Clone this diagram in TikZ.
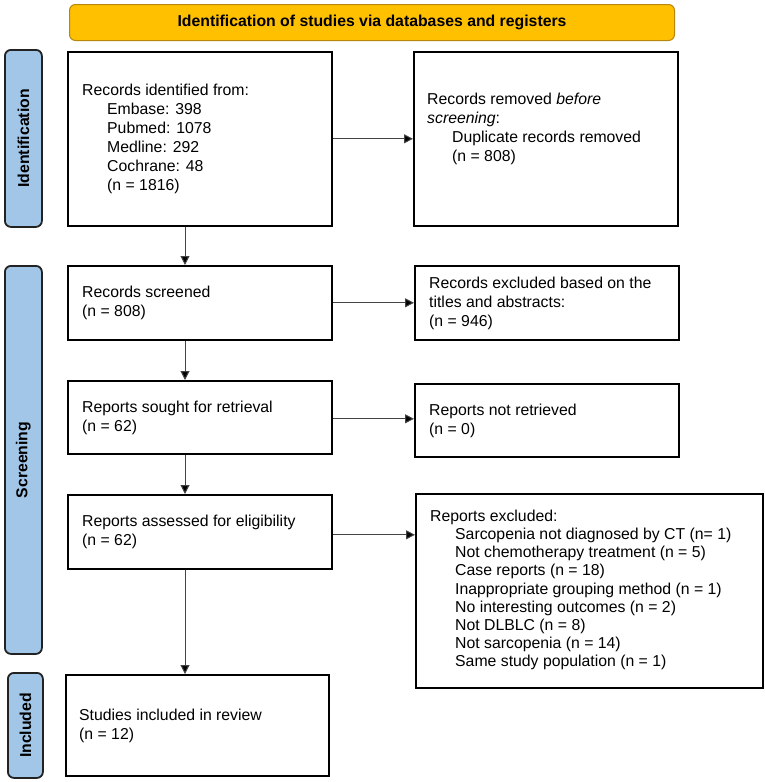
\documentclass[tikz,border=0pt]{standalone}
\usepackage{fontspec}
\setmainfont{Liberation Sans}
\usetikzlibrary{arrows.meta,calc}
\definecolor{gold}{HTML}{FFC000}
\definecolor{goldline}{HTML}{B8860B}
\definecolor{sideblue}{HTML}{A2C6E8}
\definecolor{sideline}{HTML}{222222}
\definecolor{arrline}{HTML}{444444}
\tikzset{
  box/.style={draw=black, line width=1.6pt, inner sep=0pt, fill=white, anchor=north west},
  txt/.style={anchor=west, align=left, inner sep=0pt, font=\fontsize{15.8}{19}\selectfont},
  txtb/.style={anchor=west, align=left, inner sep=0pt, font=\fontsize{15.8}{18.1}\selectfont},
  sidebox/.style={draw=sideline, fill=sideblue, rounded corners=6pt, line width=1.8pt, inner sep=0pt, anchor=north west},
  sidetxt/.style={rotate=90, inner sep=0pt, font=\bfseries\fontsize{15.8}{18}\selectfont},
  banner/.style={draw=goldline, fill=gold, rounded corners=6pt, line width=1pt, inner sep=0pt, anchor=north west, font=\bfseries\fontsize{15.8}{18}\selectfont},
  arr/.style={draw=arrline, line width=1pt, -{Triangle[length=9pt,width=9pt,fill=black]}}
}
\begin{document}
\begin{tikzpicture}[x=1pt,y=-1pt]
\useasboundingbox (0,0) rectangle (765,782);
% banner
\node[banner, minimum width=605pt, minimum height=36pt] (title) at (69,4) {Identification of studies via databases and registers};
% side labels
\node[sidebox, minimum width=37pt, minimum height=177pt] (s1) at (4,49) {};
\node[sidetxt] (s1t) at (s1.center) {Identification};
\node[sidebox, minimum width=37pt, minimum height=388pt] (s2) at (4,265) {};
\node[sidetxt] (s2t) at (s2.center) {Screening};
\node[sidebox, minimum width=35pt, minimum height=105pt] (s3) at (7,672) {};
\node[sidetxt] (s3t) at (s3.center) {Included};
% boxes
\node[box, minimum width=264pt, minimum height=174pt] (b1) at (67,51) {};
\node[box, minimum width=264pt, minimum height=174pt] (rem) at (413,51) {};
\node[box, minimum width=264pt, minimum height=74pt] (b2) at (67,265) {};
\node[box, minimum width=264pt, minimum height=74pt] (exc1) at (414,265) {};
\node[box, minimum width=264pt, minimum height=73pt] (b3) at (67,380) {};
\node[box, minimum width=264pt, minimum height=73pt] (nr) at (414,383) {};
\node[box, minimum width=264pt, minimum height=74pt] (b4) at (67,494) {};
\node[box, minimum width=347pt, minimum height=194pt] (exc2) at (415,493) {};
\node[box, minimum width=263pt, minimum height=101pt] (b5) at (65,674) {};
% texts
\node[txt] (t1) at (82,139) {Records identified from:\\
\hspace*{25pt}Embase: 398\\
\hspace*{25pt}Pubmed: 1078\\
\hspace*{25pt}Medline: 292\\
\hspace*{25pt}Cochrane: 48\\
\hspace*{25pt}(n = 1816)};
\node[txt] (trem) at (427,129) {Records removed \textit{before}\\
\textit{screening}:\\
\hspace*{25pt}Duplicate records removed\\
\hspace*{25pt}(n = 808)};
\node[txt] (t2) at (82,303) {Records screened\\(n = 808)};
\node[txt] (texc1) at (429,303) {Records excluded based on the\\titles and abstracts:\\(n = 946)};
\node[txt] (t3) at (82,418) {Reports sought for retrieval\\(n = 62)};
\node[txt] (tnr) at (429,421) {Reports not retrieved\\(n = 0)};
\node[txt] (t4) at (82,532) {Reports assessed for eligibility\\(n = 62)};
\node[txtb] (texc2) at (430,590) {Reports excluded:\\
\hspace*{25pt}Sarcopenia not diagnosed by CT (n= 1)\\
\hspace*{25pt}Not chemotherapy treatment (n = 5)\\
\hspace*{25pt}Case reports (n = 18)\\
\hspace*{25pt}Inappropriate grouping method (n = 1)\\
\hspace*{25pt}No interesting outcomes (n = 2)\\
\hspace*{25pt}Not DLBLC (n = 8)\\
\hspace*{25pt}Not sarcopenia (n = 14)\\
\hspace*{25pt}Same study population (n = 1)};
\node[txt] (t5) at (79,726) {Studies included in review\\(n = 12)};
% connectors
\coordinate (ax) at (185,0);
\draw[arr] (b1.south -| ax) -- (b2.north -| ax);
\draw[arr] (b2.south -| ax) -- (b3.north -| ax);
\draw[arr] (b3.south -| ax) -- (b4.north -| ax);
\draw[arr] (b4.south -| ax) -- (b5.north -| ax);
\draw[arr] (b1.east) -- (b1.east -| rem.west);
\draw[arr] (b2.east) -- (b2.east -| exc1.west);
\draw[arr] ($(b3.east)+(0,1.5)$) -- ($(b3.east -| nr.west)+(0,1.5)$);
\draw[arr] ($(b4.east)+(0,3)$) -- ($(b4.east -| exc2.west)+(0,3)$);
\end{tikzpicture}
\end{document}
